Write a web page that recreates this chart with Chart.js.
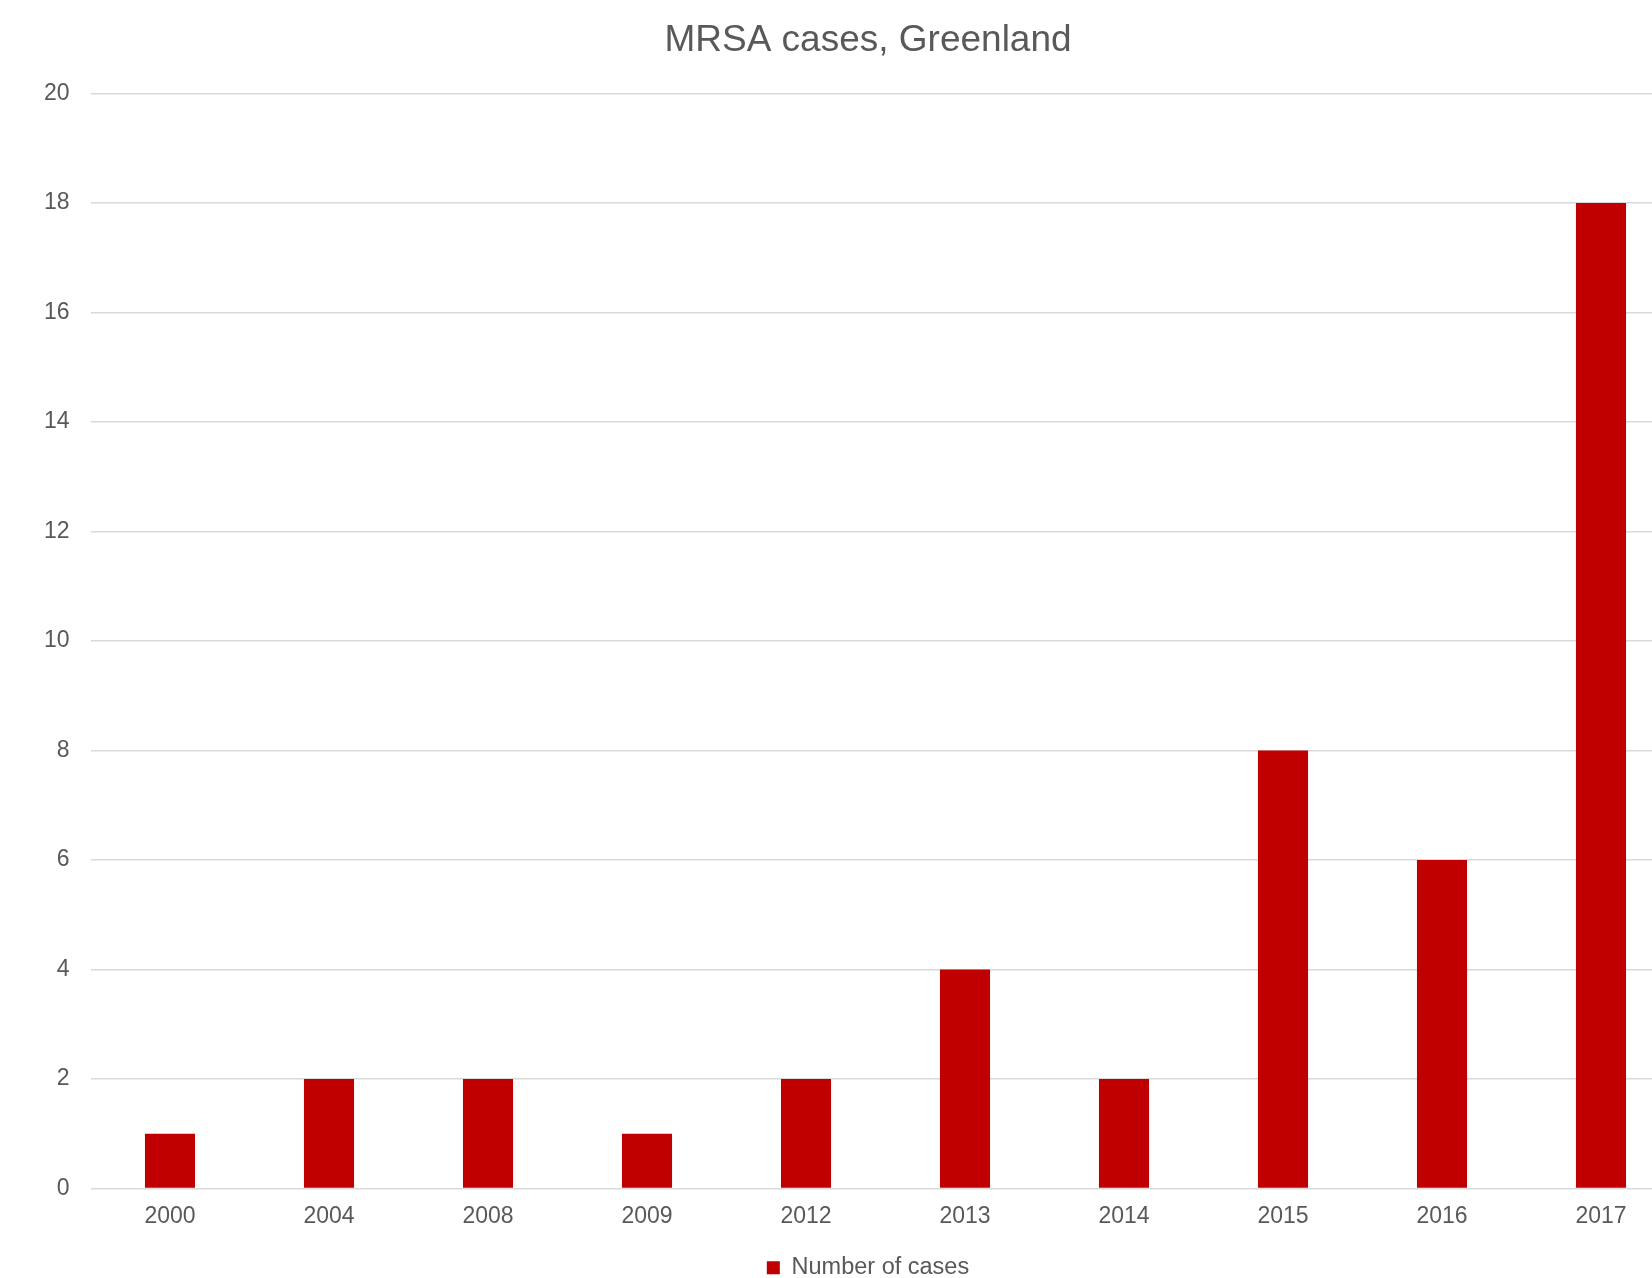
<!DOCTYPE html>
<html>
<head>
<meta charset="utf-8">
<script src="https://cdn.jsdelivr.net/npm/chart.js@4/dist/chart.umd.min.js"></script>
<style>
    html, body { margin: 0; padding: 0; background: #fff; overflow: hidden; }
    #wrap { width: 1736px; height: 1278px; }
</style>
</head>
<body>
<div id="wrap"><canvas id="myChart" width="1736" height="1278"></canvas></div>
<script>
// Chart data
var years = ['2000', '2004', '2008', '2009', '2012', '2013', '2014', '2015', '2016', '2017'];
var cases = [1, 2, 2, 1, 2, 4, 2, 8, 6, 18];
var yTicks = [0, 2, 4, 6, 8, 10, 12, 14, 16, 18, 20];

var textColor = '#595959',
    font = 'Liberation Sans, Arial, sans-serif';

var ctx = document.getElementById('myChart').getContext('2d');

new Chart(ctx, {
    type: 'bar',
    data: {
        labels: years,
        datasets: [{
            label: 'Number of cases',
            data: cases,
            backgroundColor: '#C00000',
            borderWidth: 0,
            categoryPercentage: 1,
            barPercentage: 0.315
        }]
    },
    options: {
        responsive: false,
        animation: false,
        layout: { padding: { top: 0, left: 0, right: 0, bottom: -11.6 } },
        plugins: {
            title: {
                display: true,
                text: 'MRSA cases, Greenland',
                color: textColor,
                font: { family: font, size: 37, weight: 'normal' },
                padding: { top: 19, bottom: 30 }
            },
            legend: {
                position: 'bottom',
                labels: {
                    color: textColor,
                    font: { family: font, size: 23.5 },
                    boxWidth: 13,
                    boxHeight: 13,
                    padding: 0
                }
            },
            tooltip: { enabled: false }
        },
        scales: {
            x: {
                grid: { display: false, drawTicks: false },
                border: { display: false },
                ticks: {
                    color: textColor,
                    font: { family: font, size: 23 },
                    padding: 14.7,
                    maxRotation: 0
                },
                afterFit: function (scale) {
                    scale.height = 67.5;
                }
            },
            y: {
                min: 0,
                max: 20,
                grid: { color: '#D9D9D9', lineWidth: 1.5, drawTicks: false },
                border: { display: false },
                afterBuildTicks: function (scale) {
                    scale.ticks = yTicks.map(function (v) { return { value: v }; });
                },
                ticks: {
                    color: textColor,
                    font: { family: font, size: 23 },
                    padding: 21
                },
                afterFit: function (scale) {
                    scale.width = 90.5;
                }
            },
            pad: {
                position: 'right',
                display: true,
                grid: { display: false, drawTicks: false },
                border: { display: false },
                ticks: { display: false },
                afterFit: function (scale) {
                    scale.width = 55.5;
                }
            }
        }
    }
});
</script>
</body>
</html>
